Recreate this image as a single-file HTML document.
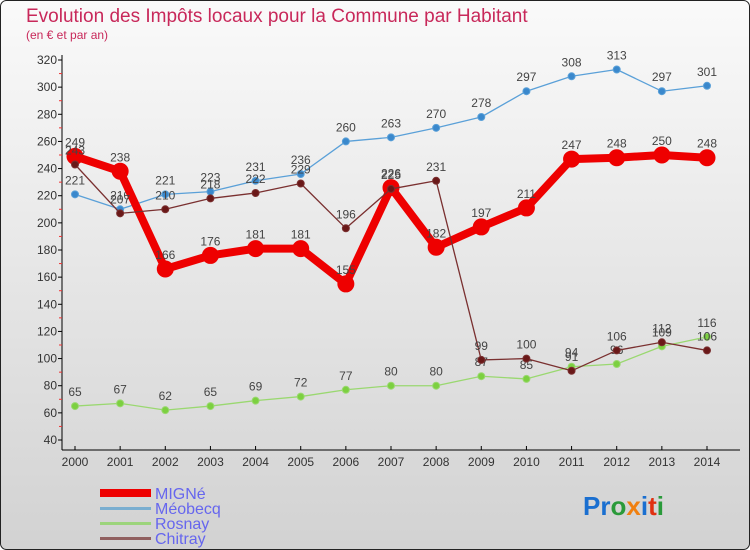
<!DOCTYPE html>
<html><head><meta charset="utf-8"><style>
body{margin:0;width:750px;height:550px;overflow:hidden;font-family:"Liberation Sans",sans-serif}
svg{display:block}
</style></head><body>
<svg id="chart" width="750" height="550" xmlns="http://www.w3.org/2000/svg">
<defs><linearGradient id="bg" x1="0" y1="0" x2="0" y2="1"><stop offset="0" stop-color="#fafafa"/><stop offset="1" stop-color="#d2d2d2"/></linearGradient></defs>
<rect x="0.5" y="0.5" width="749" height="549" rx="6" fill="url(#bg)" stroke="#222"/>
<text x="26" y="22" font-size="19" fill="#c8285a">Evolution des Impôts locaux pour la Commune par Habitant</text>
<text x="26" y="39" font-size="12" fill="#c8285a">(en € et par an)</text>
<g id="axes"></g>
<g id="series"></g>
<g id="legend">
<rect x="100" y="489" width="51" height="8" fill="#e00"/>
<rect x="100" y="507" width="51" height="3" fill="#7aaed0"/>
<rect x="100" y="522" width="51" height="3" fill="#9cd47c"/>
<rect x="100" y="537" width="51" height="3" fill="#906060"/>
<text x="155" y="499" font-size="16" fill="#6666ee">MIGNé</text>
<text x="155" y="514" font-size="16" fill="#6666ee">Méobecq</text>
<text x="155" y="529" font-size="16" fill="#6666ee">Rosnay</text>
<text x="155" y="544" font-size="16" fill="#6666ee">Chitray</text>
</g>
<g font-size="26" font-weight="bold">
<text x="583" y="515"><tspan fill="#1a6fd0">Pr</tspan><tspan fill="#2a9a3a">o</tspan><tspan fill="#f08010">x</tspan><tspan fill="#1a6fd0">i</tspan><tspan fill="#e03010">t</tspan><tspan fill="#2a9a3a">i</tspan></text>
</g>
</svg>
<script>
const years=[2000,2001,2002,2003,2004,2005,2006,2007,2008,2009,2010,2011,2012,2013,2014];
const migne=[249,238,166,176,181,181,155,226,182,197,211,247,248,250,248];
const meobecq=[221,210,221,223,231,236,260,263,270,278,297,308,313,297,301];
const rosnay=[65,67,62,65,69,72,77,80,80,87,85,94,96,109,116];
const chitray=[243,207,210,218,222,229,196,225,231,99,100,91,106,112,106];
const yTicks=[40,60,80,100,120,140,160,180,200,220,240,260,280,300,320];
const NS="http://www.w3.org/2000/svg";
const X=i=>75+i*(707-75)/14;
const Y=v=>440-(v-40)*380/280;
function mk(t,a,p){const e=document.createElementNS(NS,t);for(const k in a)e.setAttribute(k,a[k]);p.appendChild(e);return e;}
const ax=document.getElementById('axes');
const ya=mk('line',{x1:62,y1:55,x2:62,y2:450,stroke:'#000'},ax);


const xa=mk('line',{x1:62,y1:450,x2:740,y2:450,stroke:'#000'},ax);


yTicks.forEach(v=>{
 mk('line',{x1:58,x2:62,y1:Y(v),y2:Y(v),stroke:'#000'},ax);
 if(v<320)mk('line',{x1:59,x2:62,y1:Y(v+10),y2:Y(v+10),stroke:'#e33'},ax);
 const t=mk('text',{x:57,y:Y(v)+4,'text-anchor':'end','font-size':12,fill:'#333'},ax);
 
 
 t.textContent=v;
});
years.forEach((y,i)=>{
 mk('line',{x1:X(i),x2:X(i),y1:446,y2:450,stroke:'#000'},ax);
 const t=mk('text',{x:X(i),y:466,'text-anchor':'middle','font-size':12,fill:'#333'},ax);
 
 
 t.textContent=y;
});
const sg=document.getElementById('series');
function draw(name,data,col,dot,w,r){
 const g=mk('g',{},sg);
 
 
 const l=mk('polyline',{points:data.map((v,i)=>X(i)+','+Y(v)).join(' '),fill:'none',stroke:col,'stroke-width':w,'stroke-linejoin':'round'},g);
 
 
 data.forEach((v,i)=>{
  const c=mk('circle',{cx:X(i),cy:Y(v),r:r,fill:dot,stroke:col,'stroke-width':1},g);
  
  
  const t=mk('text',{x:X(i),y:Y(v)-10,'text-anchor':'middle','font-size':12,fill:'#444'},g);
  
  
  t.textContent=v;
 });
}
draw('meobecq',meobecq,'#5aa0d8','#3a88cc',1.3,3.5);
draw('rosnay',rosnay,'#9ad870','#7cd040',1.3,3.5);
draw('migne',migne,'#ee0000','#ee0000',8,8);
draw('chitray',chitray,'#7a3030','#6a1818',1.3,3.5);
</script>
</body></html>
